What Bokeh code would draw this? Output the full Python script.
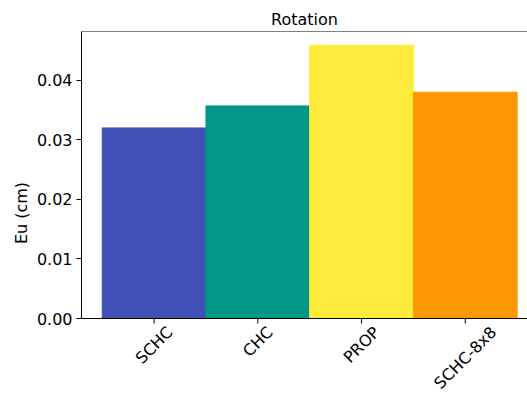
import math
from bokeh.plotting import figure
from bokeh.models import Range1d, FixedTicker, NumeralTickFormatter, Span, ColumnDataSource
from bokeh.core.properties import value
from bokeh.embed import file_html
from bokeh.resources import INLINE

# Values
methods = ["SCHC", "CHC", "PROP", "SCHC-8x8"]
eu_cm = [0.0320, 0.0357, 0.0459, 0.0380]
bar_colors = ["#3F51B5", "#009688", "#FFEB3B", "#FF9800"]
y_ticks = [0.00, 0.01, 0.02, 0.03, 0.04]

FONT = "DejaVu Sans"
FS = 16  # px

W, H = 527, 394
TOP, ZERO = 31, 318          # pixel rows of the top spine and of y = 0
positions = list(range(len(methods)))

y_top = max(eu_cm) * 1.05
px_per_unit = (ZERO - TOP) / y_top
y_bottom = -(H - ZERO) / px_per_unit   # frame runs down to the canvas edge

p = figure(width=W, height=H, output_backend="svg", toolbar_location=None,
           x_range=Range1d(-0.7, 3.6), y_range=Range1d(y_bottom, y_top),
           min_border_left=81, min_border_right=0, min_border_top=TOP,
           min_border_bottom=0, title="Rotation")

src = ColumnDataSource(dict(x=positions, top=eu_cm, color=bar_colors))
p.vbar(x="x", top="top", width=1.0, bottom=0, color="color", source=src)

p.outline_line_color = None
p.grid.grid_line_color = None
p.background_fill_color = "white"
p.border_fill_color = "white"

p.title.align = "center"
p.title.text_font = FONT
p.title.text_font_size = f"{FS}px"
p.title.text_font_style = "normal"
p.title.text_color = "black"
p.title.offset = 5
p.title.standoff = 5

ya = p.yaxis[0]
ya.bounds = (0, y_top)
ya.ticker = FixedTicker(ticks=y_ticks)
ya.formatter = NumeralTickFormatter(format="0.00")
ya.minor_tick_line_color = None
ya.major_tick_in = 0
ya.major_tick_out = 5
ya.major_tick_line_color = "black"
ya.axis_line_color = "black"
ya.major_label_text_font = FONT
ya.major_label_text_font_size = f"{FS}px"
ya.major_label_text_color = "black"
ya.major_label_standoff = 4
ya.axis_label = "Eu (cm)"
ya.axis_label_text_font = FONT
ya.axis_label_text_font_size = f"{FS}px"
ya.axis_label_text_font_style = "normal"
ya.axis_label_text_color = "black"
ya.axis_label_standoff = 3

p.xaxis.visible = False

# Top spine
p.add_layout(Span(location=y_top, dimension="width", line_color="black", line_width=1))

# Bottom spine and category ticks at y = 0
x0, x1 = p.x_range.start, p.x_range.end
p.segment(x0=[x0], y0=[0], x1=[x1], y1=[0], line_color="black", line_width=1)
tick_len = 5 / px_per_unit
p.segment(x0=positions, y0=[0] * len(positions), x1=positions,
          y1=[-tick_len] * len(positions), line_color="black", line_width=1)

# Rotated category labels, centred under each tick
char_w = {"S": 0.635, "C": 0.698, "H": 0.752, "P": 0.603, "R": 0.695, "O": 0.787,
          "-": 0.361, "8": 0.636, "x": 0.592}
label_y = []
for name in methods:
    w = sum(char_w.get(c, 0.6) for c in name) * FS
    drop = 6 + (w + 14) * math.sin(math.pi / 4) / 2
    label_y.append(-drop / px_per_unit)
lab_src = ColumnDataSource(dict(x=positions, y=label_y, text=methods))
p.text(x="x", y="y", text="text", source=lab_src, angle=math.pi / 4,
       text_align="center", text_baseline="middle",
       text_font=value(FONT), text_font_size=f"{FS}px", text_color="black")

open("out.html", "w").write(file_html(p, INLINE))
